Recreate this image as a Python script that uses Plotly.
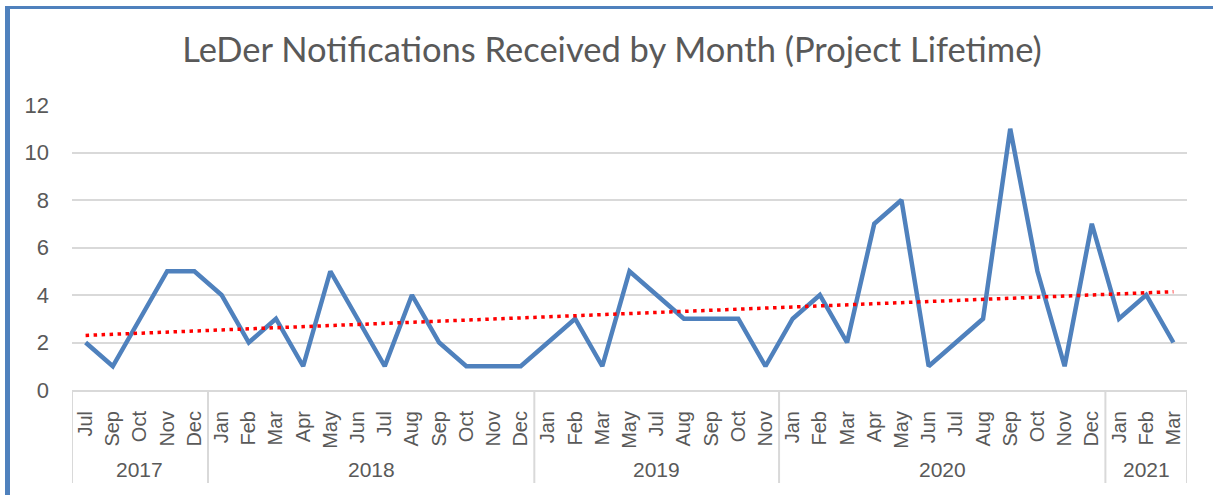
import numpy as np
import plotly.graph_objects as go

years = ["2017", "2018", "2019", "2020", "2021"]
months_per_year = [
    ["Jul", "Sep", "Oct", "Nov", "Dec"],
    ["Jan", "Feb", "Mar", "Apr", "May", "Jun", "Jul", "Aug", "Sep", "Oct", "Nov", "Dec"],
    ["Jan", "Feb", "Mar", "May", "Jul", "Aug", "Sep", "Oct", "Nov"],
    ["Jan", "Feb", "Mar", "Apr", "May", "Jun", "Jul", "Aug", "Sep", "Oct", "Nov", "Dec"],
    ["Jan", "Feb", "Mar"],
]
notifications = ([2, 1, 3, 5, 5]
                 + [4, 2, 3, 1, 5, 3, 1, 4, 2, 1, 1, 1]
                 + [2, 3, 1, 5, 4, 3, 3, 3, 1]
                 + [3, 4, 2, 7, 8, 1, 2, 3, 11, 5, 1, 7]
                 + [3, 4, 2])
y_ticks = [0, 2, 4, 6, 8, 10, 12]

months = [m for grp in months_per_year for m in grp]
idx = np.arange(len(notifications))
slope, intercept = np.polyfit(idx, notifications, 1)
trend = slope * idx + intercept

W, H = 1213, 495
L, R, T, B = 72, 26, 105, 105
pw, ph = W - L - R, H - T - B

def px(x):
    return (x - L) / pw

def py(y):
    return (H - B - y) / ph

grey = "#595959"
divider = "#D9D9D9"
fig = go.Figure()
fig.add_trace(go.Scatter(x=idx, y=notifications, mode="lines",
                         line=dict(color="#4F81BD", width=4.5), showlegend=False))
fig.add_trace(go.Scatter(x=idx, y=trend, mode="lines",
                         line=dict(color="#FF0000", width=3.5, dash="3.5px,4.5px"),
                         showlegend=False))

fig.update_layout(
    width=W, height=H,
    margin=dict(l=L, r=R, t=T, b=B),
    paper_bgcolor="white", plot_bgcolor="white",
    title=dict(text="LeDer Notifications Received by Month (Project Lifetime)",
               x=612 / W, xanchor="center", xref="container",
               y=1 - 50 / H, yanchor="middle", yref="container",
               font=dict(family="Lato", size=34.5, color=grey)),
    font=dict(family="Liberation Sans, Arial", color=grey),
)
fig.update_xaxes(range=[-0.5, len(months) - 0.5], tickmode="array", tickvals=idx,
                 ticktext=months, tickangle=-90, showgrid=False,
                 showline=True, linecolor=divider, linewidth=2, zeroline=False,
                 tickfont=dict(size=20, color=grey), ticks="", ticklabelstandoff=11)
fig.update_yaxes(range=[0, 12], tickvals=y_ticks, showgrid=True, gridcolor=divider,
                 gridwidth=2, zeroline=False, showline=False,
                 tickfont=dict(size=22, color=grey), ticklabelstandoff=22)

# year group labels and dividers
start = 0
bounds = [-0.5]
for yr, grp in zip(years, months_per_year):
    end = start + len(grp)
    fig.add_annotation(x=(start + end - 1) / 2, y=py(469), xref="x", yref="paper",
                       text=yr, showarrow=False, yanchor="middle",
                       font=dict(size=21, color=grey))
    bounds.append(end - 0.5)
    start = end
for b in bounds:
    fig.add_shape(type="line", xref="x", yref="paper", x0=b, x1=b, y0=0, y1=py(483),
                  line=dict(color=divider, width=2))

# outer chart border (blue, left and top only visible)
fig.add_shape(type="line", xref="paper", yref="paper",
              x0=px(7.5), x1=px(7.5), y0=py(7), y1=py(500),
              line=dict(color="#4F81BD", width=5))
fig.add_shape(type="line", xref="paper", yref="paper",
              x0=px(5), x1=px(1220), y0=py(7.5), y1=py(7.5),
              line=dict(color="#4F81BD", width=3))

fig.write_html("out.html", config={"displayModeBar": False},
               post_script="document.body.style.margin='0';")
